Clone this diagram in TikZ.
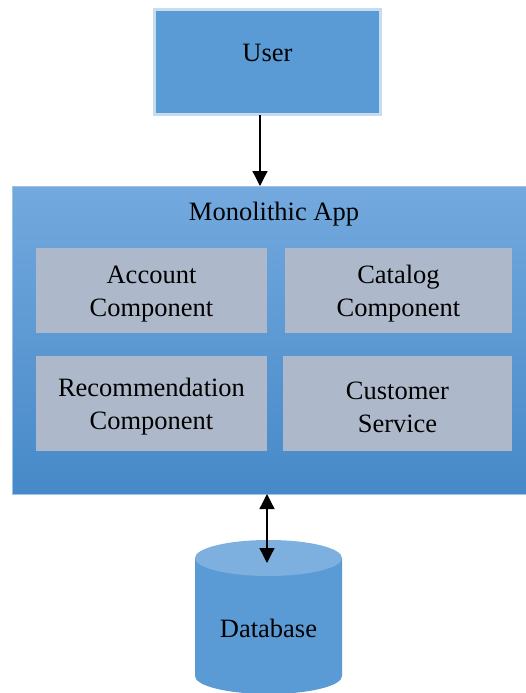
\documentclass[tikz,border=0pt]{standalone}
\usepackage{fontspec}
\setmainfont{Liberation Serif}
\usetikzlibrary{arrows.meta}
\definecolor{boxblue}{HTML}{5B9BD5}
\definecolor{boxedge}{HTML}{C8DCF0}
\definecolor{apptop}{HTML}{73A9DE}
\definecolor{appbottom}{HTML}{4689C8}
\definecolor{appedge}{HTML}{9CC3E8}
\definecolor{compgray}{HTML}{ADB9CA}
\definecolor{dbtopfill}{HTML}{7DB0DF}
\tikzset{
  txt/.style={font=\fontsize{26.5}{33}\selectfont, align=center, inner sep=0pt, text=black},
  userbox/.style={fill=boxblue, draw=boxedge, line width=3pt, inner sep=0pt, outer sep=0pt},
  appbox/.style={top color=apptop, bottom color=appbottom, draw=appedge, line width=1pt, inner sep=0pt, outer sep=0pt},
  compbox/.style={fill=compgray, inner sep=0pt, outer sep=0pt},
  comptext/.style={txt, yshift=-3.5pt},
  link/.style={line width=1.3pt, -{Triangle[width=15pt,length=15pt]}},
  biline/.style={line width=1.3pt, {Triangle[width=15pt,length=15pt]}-{Triangle[width=15pt,length=15pt]}}
}
\begin{document}
\begin{tikzpicture}[x=1pt, y=-1pt]
\useasboundingbox (0,0) rectangle (525,693);
\fill[white] (0,0) rectangle (525,693);

% user box
\node[userbox, minimum width=226, minimum height=105] (user) at (267.5,62) {};
\node[txt] (usertext) at (267.5,52.5) {User};

% application container
\node[appbox, minimum width=520, minimum height=308] (app) at (272,340) {};
\node[txt] (apptitle) at (274,214.5) {Monolithic App};

% components
\node[compbox, minimum width=231, minimum height=85, label={[comptext]center:{Account\\Component}}] (account) at (151.5,290.5) {};
\node[compbox, minimum width=227, minimum height=85, label={[comptext]center:{Catalog\\Component}}] (catalog) at (398.5,290.5) {};
\node[compbox, minimum width=231, minimum height=95, label={[comptext]center:{Recommendation\\Component}}] (recommend) at (151.5,403.5) {};
\node[compbox, minimum width=229, minimum height=95, label={[comptext]center:{Customer\\Service}}] (customer) at (397.5,403.5) {};

% database cylinder
\fill[boxblue] (195,558) -- (195,676) arc[start angle=180, end angle=360, x radius=73.5, y radius=-18] -- (342,558) -- cycle;
\fill[dbtopfill] (268.5,558) ellipse[x radius=73.5, y radius=18];
\node[txt] (db) at (268.5,628.5) {Database};

% connectors
\coordinate (ucol) at (260,0);
\coordinate (dbtop) at (267,563);
\draw[link] (ucol |- user.south) -- (ucol |- app.north);
\draw[biline] (dbtop |- app.south) -- (dbtop);
\end{tikzpicture}
\end{document}
